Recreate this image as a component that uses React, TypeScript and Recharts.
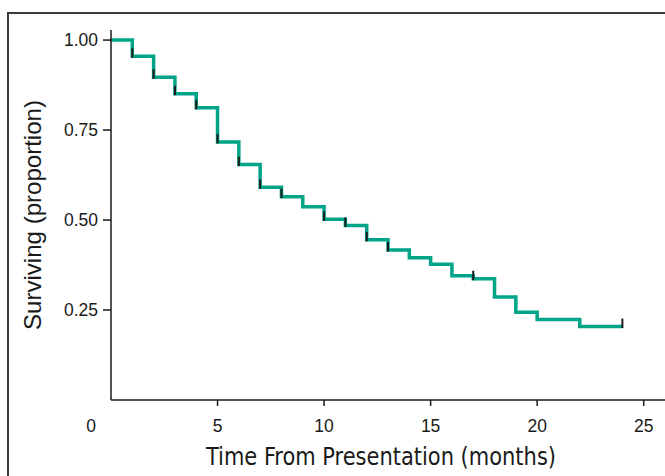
import { ComposedChart, Line, Scatter, XAxis, YAxis, Label } from 'recharts';

// Kaplan-Meier step values
const months = [0, 1, 2, 3, 4, 5, 6, 7, 8, 9, 10, 11, 12, 13, 14, 15, 16, 17, 18, 19, 20, 22, 24];
const surviving = [
  1.0, 0.955, 0.897, 0.851, 0.812, 0.717, 0.654, 0.591, 0.565, 0.537, 0.502, 0.485,
  0.445, 0.417, 0.395, 0.377, 0.345, 0.337, 0.286, 0.244, 0.224, 0.204, 0.204,
];
// months with a censoring mark
const censoredMonths = [1, 2, 3, 4, 5, 6, 7, 8, 10, 11, 12, 13, 17, 24];

const xTicks = [0, 5, 10, 15, 20, 25];
const yTicks = [0.25, 0.5, 0.75, 1.0];

const curve = months.map((t, i) => ({ t, s: surviving[i] }));
const censored = censoredMonths.map((t) => ({ t, s: surviving[months.indexOf(t)] }));

const TEAL = '#00a488';
const INK = '#1a1a1a';
const tickFont = '"Liberation Sans", Arial, sans-serif';

function CensorMark(props: any) {
  const { cx, cy } = props;
  return <line x1={cx} x2={cx} y1={cy + 1.5} y2={cy - 8} stroke={INK} strokeWidth={2} />;
}

function XTick(props: any) {
  const { x, y, payload } = props;
  if (payload.value === 0) {
    return (
      <text x={x - 20} y={y + 26} textAnchor="middle" fontSize={17.5} fontFamily={tickFont} fill={INK}>
        0
      </text>
    );
  }
  return (
    <g>
      <line x1={x} x2={x} y1={y - 6} y2={y} stroke={INK} strokeWidth={1.5} />
      <text x={x} y={y + 26} textAnchor="middle" fontSize={17.5} fontFamily={tickFont} fill={INK}>
        {payload.value}
      </text>
    </g>
  );
}

function XTitle(props: any) {
  const { viewBox } = props;
  return (
    <text
      x={viewBox.x + viewBox.width / 2 - 7}
      y={viewBox.y + 65}
      textAnchor="middle"
      fontSize={25}
      fontFamily='"Liberation Sans Narrow", "DejaVu Sans Condensed", sans-serif'
      textLength={350}
      lengthAdjust="spacingAndGlyphs"
      fill={INK}
    >
      Time From Presentation (months)
    </text>
  );
}

function YTitle(props: any) {
  const { viewBox } = props;
  const cx = 41;
  const cy = viewBox.y + viewBox.height / 2;
  return (
    <text
      x={cx}
      y={cy}
      transform={`rotate(-90 ${cx} ${cy})`}
      textAnchor="middle"
      fontSize={24}
      fontFamily={tickFont}
      textLength={230}
      lengthAdjust="spacingAndGlyphs"
      fill={INK}
    >
      Surviving (proportion)
    </text>
  );
}

export default function App() {
  return (
    <div style={{ position: 'fixed', left: 0, top: 0, width: 665, height: 476, overflow: 'hidden', background: '#fff' }}>
      <div
        style={{
          position: 'absolute',
          left: 7,
          top: 12,
          width: 700,
          height: 500,
          borderTop: '2px solid #3a3a3a',
          borderLeft: '2px solid #3a3a3a',
        }}
      />
      <div style={{ position: 'absolute', left: 0, top: 0 }}>
        <ComposedChart width={665} height={476} margin={{ top: 30, right: 0, bottom: 0, left: 0 }}>
          <XAxis
            dataKey="t"
            type="number"
            domain={[0, 26]}
            ticks={xTicks}
            interval={0}
            height={76}
            stroke={INK}
            strokeWidth={1.5}
            tickLine={false}
            tickSize={6}
            tickMargin={0}
            tick={<XTick />}
            allowDataOverflow
          >
            <Label content={<XTitle />} />
          </XAxis>
          <YAxis
            dataKey="s"
            type="number"
            domain={[0, 1.028]}
            ticks={yTicks}
            interval={0}
            width={111}
            stroke={INK}
            strokeWidth={1.5}
            tickSize={8}
            tickMargin={5}
            tickFormatter={(v: number) => v.toFixed(2)}
            tick={{ fontSize: 17.5, fontFamily: tickFont, fill: INK }}
            allowDataOverflow
          >
            <Label content={<YTitle />} />
          </YAxis>
          <Line
            data={curve}
            dataKey="s"
            type="stepAfter"
            stroke={TEAL}
            strokeWidth={3.5}
            dot={false}
            activeDot={false}
            isAnimationActive={false}
          />
          <Scatter data={censored} dataKey="s" shape={<CensorMark />} isAnimationActive={false} />
        </ComposedChart>
      </div>
    </div>
  );
}
